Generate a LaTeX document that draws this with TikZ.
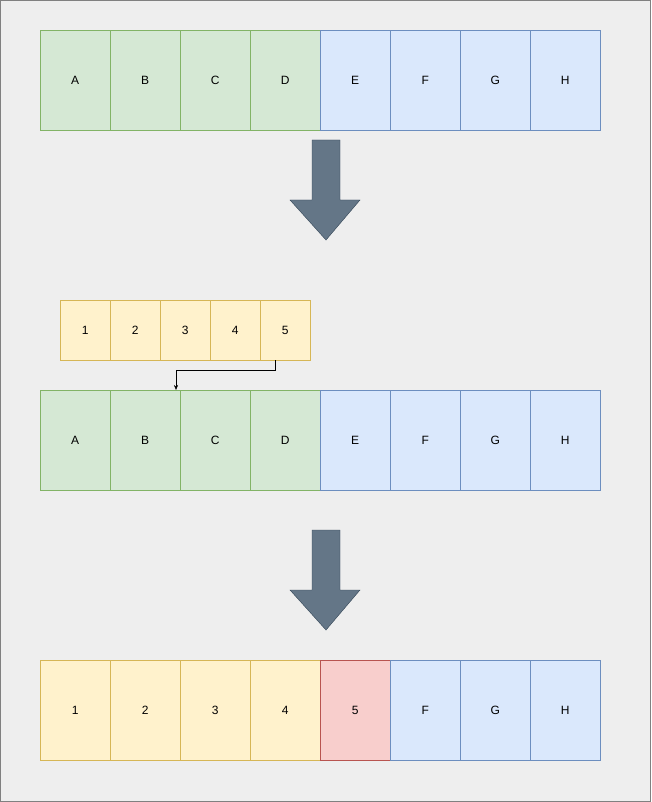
\documentclass[tikz,border=0pt]{standalone}
\usepackage{fontspec}
\setmainfont{Liberation Sans}
\usetikzlibrary{arrows.meta}
\definecolor{gf}{HTML}{D5E8D4}\definecolor{gs}{HTML}{82B366}
\definecolor{bf}{HTML}{DAE8FC}\definecolor{bs}{HTML}{6C8EBF}
\definecolor{yf}{HTML}{FFF2CC}\definecolor{ys}{HTML}{D6B656}
\definecolor{rf}{HTML}{F8CECC}\definecolor{rs}{HTML}{B85450}
\definecolor{af}{HTML}{647687}\definecolor{as}{HTML}{314354}
\definecolor{bg}{HTML}{EEEEEE}
\begin{document}
\begin{tikzpicture}[x=1pt,y=-1pt,
 cell/.style={draw,minimum width=70pt,minimum height=100pt,anchor=north west,inner sep=0pt,font=\large},
 scell/.style={draw,minimum width=50pt,minimum height=60pt,anchor=north west,inner sep=0pt,font=\large},
 green/.style={fill=gf,draw=gs},blue/.style={fill=bf,draw=bs},
 yellow/.style={fill=yf,draw=ys},red/.style={fill=rf,draw=rs},
 bigarrow/.style={fill=af,draw=as}]
\useasboundingbox (0,0) rectangle (651,802);
\draw[fill=bg,draw=gray] (0.5,0.5) rectangle (650.5,801.5);
\foreach \t [count=\i from 0] in {A,B,C,D}{\node[cell,green] (r1\i) at (40+70*\i,30) {\t};}
\foreach \t [count=\i from 4] in {E,F,G,H}{\node[cell,blue] (r1\i) at (40+70*\i,30) {\t};}
\foreach \t [count=\i from 0] in {1,2,3,4,5}{\node[scell,yellow] (s\i) at (60+50*\i,300) {\t};}
\foreach \t [count=\i from 0] in {A,B,C,D}{\node[cell,green] (r2\i) at (40+70*\i,390) {\t};}
\foreach \t [count=\i from 4] in {E,F,G,H}{\node[cell,blue] (r2\i) at (40+70*\i,390) {\t};}
\foreach \t [count=\i from 0] in {1,2,3,4}{\node[cell,yellow] (r3\i) at (40+70*\i,660) {\t};}
\node[cell,red] (r34) at (320,660) {5};
\foreach \t [count=\i from 5] in {F,G,H}{\node[cell,blue] (r3\i) at (40+70*\i,660) {\t};}
\draw[bigarrow] (312,140) -- (340,140) -- (340,200) -- (360,200) -- (326,240) -- (290,200) -- (312,200) -- cycle;
\draw[bigarrow] (312,530) -- (340,530) -- (340,590) -- (360,590) -- (326,630) -- (290,590) -- (312,590) -- cycle;
\coordinate (t) at (176,390);
\draw[-{Stealth[length=5pt,width=4pt]}] ([xshift=-10pt]s4.south) -- ++(0,10) -| (t);
\end{tikzpicture}
\end{document}
